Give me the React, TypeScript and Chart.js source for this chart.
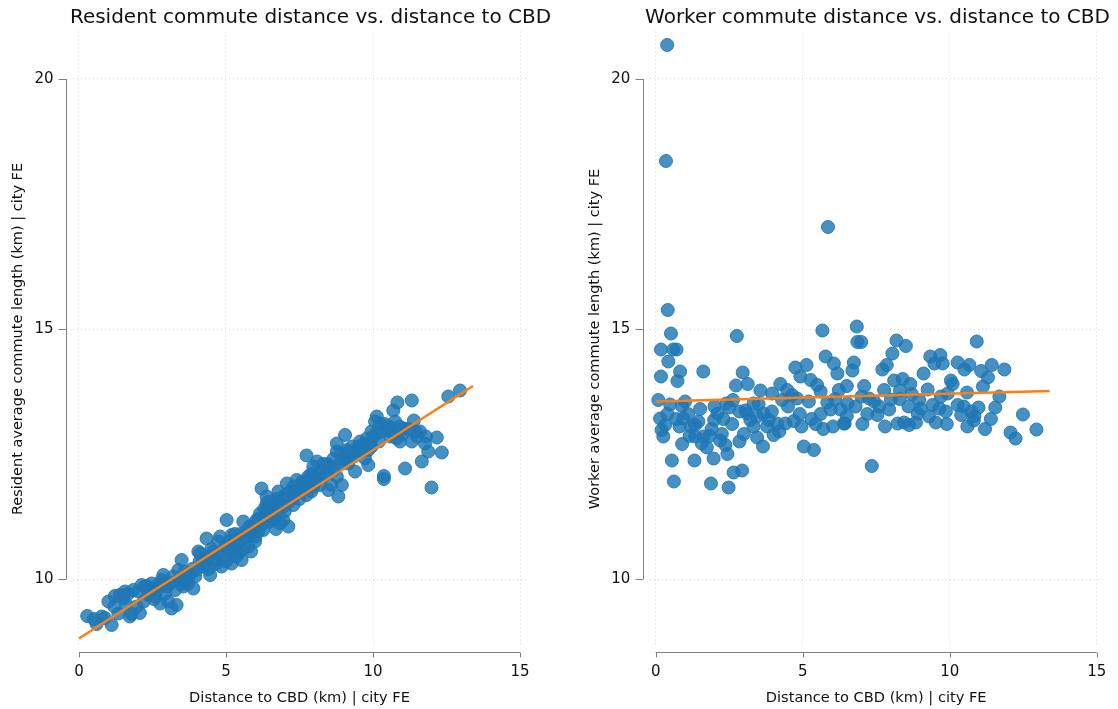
import { useEffect, useRef } from 'react';
import { Chart, registerables } from 'chart.js';

Chart.register(...registerables);

const FONT = '"DejaVu Sans", "Liberation Sans", sans-serif';
const INK = '#111111';
const AXIS = '#808080';
const GRID = 'rgba(0,0,0,0.16)';
const DOT_FILL = 'rgba(31,119,180,0.82)';
const DOT_EDGE = 'rgba(31,119,180,0.9)';
const FIT = '#ff7f0e';

// Axis ticks and view ranges (shared by both panels)
const X_TICKS = [0, 5, 10, 15];
const Y_TICKS = [10, 15, 20];
const X_MIN = -0.2;
const X_MAX = 15.2;
const Y_MIN = 8.65;
const Y_MAX = 20.95;

const X_TITLE = 'Distance to CBD (km) | city FE';

// Resident panel: distance to CBD vs. resident commute length
const residentDist = [
  0.28, 0.6, 0.77, 0.88, 1.11, 1.0, 1.22, 1.34, 1.39, 1.51, 1.56, 1.68, 1.73, 1.79, 1.85, 1.96, 2.02, 2.07, 2.13, 2.24,
  2.3, 2.36, 2.47, 2.53, 2.64, 2.7, 2.76, 2.81, 2.87, 2.93, 3.04, 3.1, 3.15, 3.27, 3.32, 3.38, 3.38, 3.49, 3.55, 3.61,
  3.72, 3.78, 3.89, 3.95, 4.0, 4.06, 4.12, 4.17, 4.23, 4.34, 4.4, 4.46, 4.57, 4.63, 4.74, 4.8, 4.85, 4.91, 4.97, 5.02,
  5.08, 5.19, 5.19, 5.19, 5.31, 5.42, 5.42, 5.53, 5.59, 5.59, 5.65, 5.76, 5.76, 5.87, 5.99, 6.04, 6.1, 6.16, 6.21, 6.27,
  6.27, 6.33, 6.38, 6.38, 6.44, 6.5, 6.55, 6.61, 6.61, 6.72, 6.78, 6.84, 6.84, 6.95, 7.01, 7.07, 7.12, 7.29, 7.29, 7.29,
  7.4, 7.52, 7.63, 7.74, 7.74, 7.8, 7.97, 7.97, 8.03, 8.2, 8.2, 8.42, 8.48, 8.54, 8.59, 8.77, 8.77, 8.77, 8.82, 8.88,
  8.94, 8.99, 9.05, 9.11, 9.16, 9.22, 9.39, 9.44, 9.56, 9.73, 9.79, 9.84, 9.84, 9.95, 10.07, 10.13, 10.24, 10.37, 10.37, 10.46,
  10.69, 10.69, 10.81, 10.83, 10.92, 11.03, 11.09, 11.32, 11.32, 11.39, 11.6, 11.66, 11.77, 11.88, 11.99, 12.17, 12.34, 12.56, 12.96,
  9.9, 10.0, 10.3, 10.55, 10.6, 10.2, 9.6, 9.3, 8.65, 8.3, 7.85, 7.6, 7.2, 6.95, 6.7, 6.5, 5.95, 5.7, 5.3, 4.75,
  4.3, 3.85, 3.45, 3.0, 2.55, 2.2, 11.2, 11.5, 10.9, 9.15, 8.1,
  2.4, 2.9, 3.2, 3.6, 4.1, 4.5, 4.65, 5.0, 5.1, 5.35, 5.5, 5.8, 6.0, 6.1, 6.3, 6.45, 6.6, 6.9, 7.0, 7.15,
  7.35, 7.5, 7.7, 7.9, 8.05, 8.3, 8.45, 8.7, 8.9, 9.1, 9.35, 9.5, 9.7, 9.95, 10.1, 10.4, 10.75, 11.0, 11.45, 11.8,
  1.2, 1.6, 0.5, 2.6, 3.7, 4.4, 5.3, 5.85, 6.7, 7.9,
];
const residentCommute = [
  9.26, 9.1, 9.25, 9.22, 9.08, 9.55, 9.66, 9.31, 9.68, 9.61, 9.75, 9.71, 9.25, 9.3, 9.78, 9.45, 9.75, 9.32, 9.88, 9.85,
  9.86, 9.68, 9.91, 9.81, 9.78, 9.88, 9.51, 9.98, 10.08, 9.71, 9.55, 9.92, 9.41, 9.78, 9.48, 10.18, 9.98, 10.38, 9.85, 9.95,
  10.01, 10.11, 9.81, 10.05, 10.18, 10.55, 10.51, 10.31, 10.25, 10.81, 10.45, 10.08, 10.55, 10.38, 10.75, 10.85, 10.25, 10.45, 10.65, 11.18,
  10.58, 10.31, 10.55, 10.88, 10.78, 10.51, 10.71, 10.38, 11.15, 10.61, 10.85, 10.65, 10.85, 11.01, 10.75, 11.18, 10.95, 11.31, 11.81, 10.98,
  11.11, 11.25, 11.51, 11.65, 11.38, 11.45, 11.28, 11.38, 11.51, 11.28, 11.75, 11.51, 11.11, 11.18, 11.68, 11.91, 11.05, 11.85, 11.65, 11.48,
  11.98, 11.78, 11.91, 12.47, 11.68, 12.05, 12.25, 11.85, 12.05, 12.15, 11.88, 12.11, 11.78, 12.25, 11.88, 12.71, 12.55, 12.05, 11.65, 12.31,
  11.88, 12.41, 12.88, 12.58, 12.31, 12.45, 12.15, 12.55, 12.75, 12.41, 12.81, 12.58, 12.28, 12.95, 13.15, 13.25, 13.11, 12.06, 12.0, 12.98,
  13.37, 12.91, 12.81, 13.53, 12.75, 13.01, 12.21, 13.57, 12.75, 13.17, 12.95, 12.35, 12.71, 12.55, 11.83, 12.83, 12.53, 13.65, 13.77,
  12.7, 12.85, 12.95, 13.05, 12.85, 12.75, 12.55, 12.65, 12.4, 12.3, 12.0, 11.95, 11.75, 11.45, 11.6, 11.15, 11.0, 10.95, 10.6, 10.5,
  10.4, 10.2, 9.9, 9.85, 9.6, 9.55, 13.0, 12.85, 13.05, 12.55, 12.35,
  9.75, 9.9, 10.05, 10.15, 10.35, 10.6, 10.3, 10.35, 10.75, 10.45, 10.9, 11.05, 10.85, 11.2, 11.4, 11.55, 11.2, 11.6, 11.35, 11.55,
  11.75, 11.6, 11.85, 12.1, 11.95, 12.05, 12.3, 12.2, 12.5, 12.35, 12.45, 12.65, 12.7, 12.65, 12.9, 13.1, 13.15, 12.9, 12.95, 12.85,
  9.45, 9.5, 9.2, 9.65, 9.9, 10.2, 10.9, 10.55, 11.0, 11.75,
];
const residentFitX = [0, 13.4];
const residentFitY = [8.81, 13.86];

// Worker panel: distance to CBD vs. worker commute length
const workerDist = [
  0.39, 0.35, 5.86, 0.41, 0.52, 2.76, 5.67, 0.18, 0.6, 0.71, 0.43, 0.83, 1.62, 0.18, 0.74, 2.96, 2.73, 3.13, 4.75, 5.13,
  5.78, 6.06, 6.18, 4.92, 5.27, 4.24, 5.49, 4.47, 3.56, 3.96, 4.64, 5.61, 6.23, 0.09, 0.49, 0.89, 1.0, 1.51, 2.4, 2.63,
  2.51, 3.05, 3.33, 4.3, 4.81, 5.21, 5.84, 5.95, 5.61, 6.29, 2.1, 1.99, 0.15, 0.32, 0.2, 0.26, 0.81, 0.94, 1.34, 1.15,
  1.34, 1.62, 1.83, 1.57, 1.74, 2.25, 2.19, 2.37, 1.97, 2.44, 2.85, 3.11, 3.22, 3.45, 3.33, 3.67, 3.84, 3.79, 3.45, 3.65,
  4.01, 4.13, 4.41, 4.7, 4.96, 5.44, 6.03, 6.43, 5.04, 5.38, 0.55, 1.32, 0.62, 1.88, 2.48, 2.65, 2.94,
  6.84, 6.86, 6.99, 8.19, 8.51, 8.05, 10.92, 9.34, 9.68, 9.48, 9.76, 10.27, 10.67, 10.5, 11.43, 11.86, 11.07, 6.74, 6.69, 7.86,
  7.71, 9.11, 11.3, 8.11, 8.4, 10.04, 10.1, 8.66, 6.5, 7.09, 7.77, 8.31, 9.25, 11.13, 8.71, 9.93, 10.59, 11.69, 6.52, 6.8,
  7.26, 7.43, 7.6, 8.0, 7.94, 8.96, 9.02, 9.42, 9.65, 9.87, 10.27, 10.48, 10.39, 10.73, 10.98, 10.84, 10.82, 11.55, 6.5, 6.4,
  7.03, 7.54, 8.23, 8.45, 8.62, 8.85, 8.91, 9.53, 11.2, 12.49, 12.07, 12.24, 12.95, 7.35,
  0.4, 0.7, 1.1, 1.2, 1.45, 2.0, 2.3, 2.6, 2.85, 3.5, 3.95, 4.5, 4.9, 5.3, 5.7, 6.1, 4.2, 3.0, 1.9, 0.9,
  7.2, 7.8, 8.6, 9.3, 9.9, 10.6, 11.4, 8.3, 9.7, 7.0,
];
const workerCommute = [
  20.68, 18.36, 17.04, 15.38, 14.91, 14.86, 14.97, 14.59, 14.59, 14.59, 14.35, 14.15, 14.15, 14.05, 13.96, 14.13, 13.87, 13.9, 14.23, 14.28,
  14.45, 14.31, 14.11, 14.05, 13.98, 13.9, 13.88, 13.78, 13.77, 13.71, 13.68, 13.75, 13.78, 13.58, 13.49, 13.46, 13.55, 13.4, 13.51, 13.58,
  13.43, 13.37, 13.51, 13.58, 13.61, 13.55, 13.53, 13.39, 13.3, 13.39, 13.31, 13.18, 13.21, 13.08, 12.98, 12.85, 13.05, 13.21, 13.08, 12.86,
  12.85, 12.85, 12.86, 12.71, 12.63, 12.9, 12.77, 12.68, 12.41, 12.5, 12.75, 13.31, 13.18, 13.25, 13.05, 13.31, 13.18, 13.05, 12.83, 12.65,
  12.88, 13.11, 13.11, 13.16, 13.05, 13.1, 13.05, 13.11, 12.65, 12.58, 12.37, 12.37, 11.95, 11.91, 11.83, 12.13, 12.17,
  15.05, 14.74, 14.74, 14.77, 14.66, 14.51, 14.75, 14.45, 14.48, 14.31, 14.31, 14.33, 14.28, 14.19, 14.28, 14.19, 14.16, 14.33, 14.17, 14.28,
  14.19, 14.11, 14.03, 13.97, 14.0, 13.97, 13.9, 13.9, 13.86, 13.86, 13.78, 13.77, 13.79, 13.85, 13.7, 13.71, 13.73, 13.65, 13.51, 13.45,
  13.61, 13.55, 13.45, 13.59, 13.39, 13.58, 13.41, 13.48, 13.41, 13.35, 13.48, 13.45, 13.28, 13.35, 13.43, 13.26, 13.17, 13.43, 13.26, 13.11,
  13.1, 13.28, 13.11, 13.13, 13.08, 13.13, 13.31, 13.13, 13.0, 13.29, 12.93, 12.81, 12.99, 12.26,
  13.3, 13.2, 13.3, 13.05, 13.15, 13.45, 13.2, 13.1, 13.35, 13.5, 13.35, 13.45, 13.3, 13.2, 13.0, 13.6, 12.95, 12.9, 13.0, 12.7,
  13.3, 13.05, 13.45, 13.25, 13.1, 13.05, 13.2, 13.6, 13.65, 13.65,
];
const workerFitX = [0, 13.4];
const workerFitY = [13.55, 13.76];

// Stata-style axis lines: they only span the labelled tick range and sit
// slightly outside the plot region, with outward tick marks.
const axisFrame = {
  id: 'axisFrame',
  afterDraw(chart: any) {
    const { ctx, chartArea, scales } = chart;
    const xs = scales.x;
    const ys = scales.y;
    ctx.save();
    ctx.strokeStyle = AXIS;
    ctx.lineWidth = 1;
    ctx.beginPath();
    const ax = Math.round(chartArea.left - 7) + 0.5;
    const yTop = ys.getPixelForValue(Y_TICKS[Y_TICKS.length - 1]);
    const yBot = ys.getPixelForValue(Y_TICKS[0]);
    ctx.moveTo(ax, yTop);
    ctx.lineTo(ax, yBot);
    Y_TICKS.forEach((v) => {
      const p = Math.round(ys.getPixelForValue(v)) + 0.5;
      ctx.moveTo(ax - 8, p);
      ctx.lineTo(ax, p);
    });
    const ay = Math.round(chartArea.bottom + 5) + 0.5;
    const xL = xs.getPixelForValue(X_TICKS[0]);
    const xR = xs.getPixelForValue(X_TICKS[X_TICKS.length - 1]);
    ctx.moveTo(xL, ay);
    ctx.lineTo(xR, ay);
    X_TICKS.forEach((v) => {
      const p = Math.round(xs.getPixelForValue(v)) + 0.5;
      ctx.moveTo(p, ay);
      ctx.lineTo(p, ay + 5);
    });
    ctx.stroke();
    ctx.restore();
  },
};

type PanelProps = {
  title: string;
  yTitle: string;
  xs: number[];
  ys: number[];
  fitX: number[];
  fitY: number[];
  left: number;
  width: number;
  yAxisWidth: number;
  rightGap: number;
};

function Panel({ title, yTitle, xs, ys, fitX, fitY, left, width, yAxisWidth, rightGap }: PanelProps) {
  const ref = useRef<HTMLCanvasElement | null>(null);

  useEffect(() => {
    if (!ref.current) return;
    const points = xs.map((x, i) => ({ x, y: ys[i] }));
    const fit = fitX.map((x, i) => ({ x, y: fitY[i] }));
    const chart = new Chart(ref.current, {
      type: 'scatter',
      data: {
        datasets: [
          {
            type: 'line',
            data: fit,
            borderColor: FIT,
            borderWidth: 2.5,
            pointRadius: 0,
            fill: false,
            order: 0,
          } as any,
          {
            type: 'scatter',
            data: points,
            backgroundColor: DOT_FILL,
            borderColor: DOT_EDGE,
            borderWidth: 1,
            pointRadius: 6.5,
            order: 1,
          },
        ],
      },
      options: {
        responsive: false,
        animation: false,
        devicePixelRatio: 1,
        layout: { padding: 0 },
        plugins: {
          legend: { display: false },
          tooltip: { enabled: false },
          title: {
            display: true,
            text: title,
            color: INK,
            font: { family: FONT, size: 20, weight: 'normal' },
            padding: { top: 5.5, bottom: 2 },
          },
        },
        scales: {
          x: {
            type: 'linear',
            position: 'bottom',
            min: X_MIN,
            max: X_MAX,
            afterBuildTicks: (s: any) => {
              s.ticks = X_TICKS.map((value) => ({ value }));
            },
            afterFit: (s: any) => {
              s.height = 62.5;
            },
            grid: { color: GRID, lineWidth: 1, drawTicks: false },
            border: { display: false, dash: [1, 3] },
            ticks: {
              padding: 16.3,
              color: INK,
              font: { family: FONT, size: 15 },
              maxRotation: 0,
              callback: (v: any) => String(v),
            },
            title: {
              display: true,
              text: X_TITLE,
              color: INK,
              font: { family: FONT, size: 14.6 },
              padding: { top: 0, bottom: 2 },
            },
          },
          y: {
            type: 'linear',
            position: 'left',
            min: Y_MIN,
            max: Y_MAX,
            afterBuildTicks: (s: any) => {
              s.ticks = Y_TICKS.map((value) => ({ value }));
            },
            afterFit: (s: any) => {
              s.width = yAxisWidth;
            },
            grid: { color: GRID, lineWidth: 1, drawTicks: false },
            border: { display: false, dash: [1, 3] },
            ticks: {
              padding: 19.5,
              color: INK,
              font: { family: FONT, size: 15 },
              callback: (v: any) => String(v),
            },
            title: {
              display: true,
              text: yTitle,
              color: INK,
              font: { family: FONT, size: 14.5 },
              padding: { top: 9.6, bottom: 0 },
            },
          },
          gap: {
            type: 'linear',
            position: 'right',
            display: true,
            afterFit: (s: any) => {
              s.width = rightGap;
            },
            grid: { display: false },
            border: { display: false },
            ticks: { display: false },
          },
        },
      },
      plugins: [axisFrame],
    } as any);
    return () => chart.destroy();
  }, [title, yTitle, xs, ys, fitX, fitY, yAxisWidth, rightGap]);

  return (
    <canvas
      ref={ref}
      width={width}
      height={709}
      style={{ position: 'absolute', left, top: 0, width, height: 709 }}
    />
  );
}

export default function App() {
  return (
    <div
      style={{
        position: 'absolute',
        left: 0,
        top: 0,
        width: 1118,
        height: 709,
        overflow: 'hidden',
        background: '#ffffff',
      }}
    >
      <Panel
        title="Resident commute distance vs. distance to CBD"
        yTitle="Resident average commute length (km) | city FE"
        xs={residentDist}
        ys={residentCommute}
        fitX={residentFitX}
        fitY={residentFitY}
        left={0}
        width={621}
        yAxisWidth={73.1}
        rightGap={95.1}
      />
      <Panel
        title="Worker commute distance vs. distance to CBD"
        yTitle="Worker average commute length (km) | city FE"
        xs={workerDist}
        ys={workerCommute}
        fitX={workerFitX}
        fitY={workerFitY}
        left={577}
        width={601}
        yAxisWidth={72.8}
        rightGap={75.4}
      />
    </div>
  );
}
